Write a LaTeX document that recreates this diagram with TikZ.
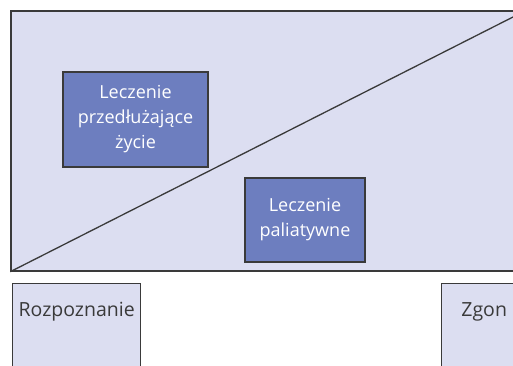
\documentclass[tikz,border=0pt]{standalone}
\usepackage{fontspec}
\setmainfont{Open Sans}
\definecolor{lightlav}{HTML}{DCDEF1}
\definecolor{darklav}{HTML}{6D7EBF}
\definecolor{edge}{HTML}{3A3A3A}

\begin{document}
\begin{tikzpicture}[x=1pt,y=-1pt,line width=1.4pt,
panel/.style={draw=edge,fill=lightlav,rectangle,inner sep=0pt},
treatbox/.style={draw=edge,fill=darklav,rectangle,inner sep=0pt,text=white,align=center,font=\fontsize{18}{25}\selectfont},
stagebox/.style={draw=edge,fill=lightlav,rectangle,anchor=north west,inner xsep=0pt,inner ysep=4pt,text height=29pt,text depth=70pt,text=edge,align=center,font=\fontsize{19.5}{25}\selectfont}]

\useasboundingbox (0,0) rectangle (513,365);
\clip (0,0) rectangle (513,365);

\node[panel,minimum width=514pt,minimum height=260pt] (area) at (268,141) {};
\draw[edge,line width=1.3pt] (area.south west) -- (513,17);
\node[treatbox,minimum width=145pt,minimum height=95pt] (prolong) at (135.5,119.5) {Leczenie\\przedłużające\\życie};
\node[treatbox,minimum width=120pt,minimum height=84pt] (palliat) at (305,220) {Leczenie\\paliatywne};

\node[stagebox,text width=128pt] (diag) at (12,283) {Rozpoznanie};
\node[stagebox,text width=85pt] (death) at (441,283) {Zgon};

\end{tikzpicture}
\end{document}
